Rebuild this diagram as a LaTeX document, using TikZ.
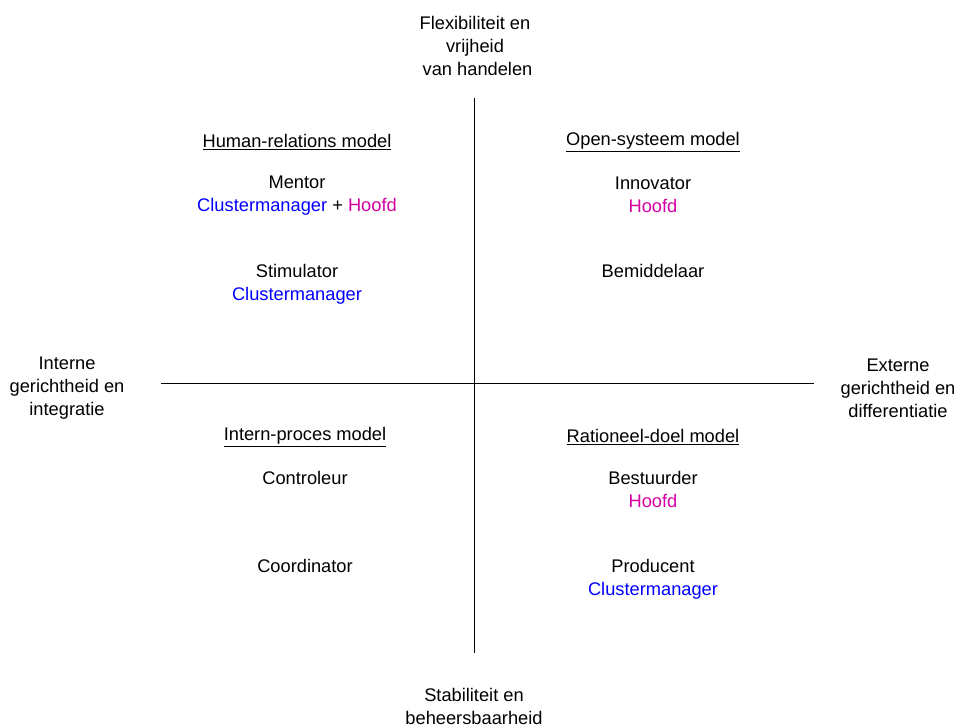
\documentclass[tikz,border=0pt]{standalone}
\usepackage{fontspec}
\setmainfont{Liberation Sans}
\definecolor{cmblue}{RGB}{0,0,255}
\definecolor{hoofdpink}{RGB}{214,0,160}
\begin{document}
\begin{tikzpicture}[x=0.75pt,y=-0.75pt,
  lbl/.style={inner sep=0pt,align=center,font=\fontsize{13.7}{17.25}\selectfont},
  axis/.style={line width=0.75pt,black}]
\useasboundingbox (0,0) rectangle (959,725);
% axes
\coordinate (vtop) at (474,98);
\coordinate (vbot) at (474,653);
\coordinate (hleft) at (161,383);
\coordinate (hright) at (814,383);
\draw[axis] (vtop) -- (vbot);
\draw[axis] (hleft) -- (hright);
% axis labels
\node[lbl] (flex) at (475,46) {Flexibiliteit en\\vrijheid\\~van handelen};
\node[lbl] (stab) at (474,706) {Stabiliteit en\\beheersbaarheid};
\node[lbl] (intern) at (67,388) {Interne\\gerichtheid en\\integratie};
\node[lbl] (extern) at (898,388) {Externe\\gerichtheid en\\differentiatie};
% quadrant headings
\node[lbl] (hr) at (297,142) {\underline{Human-relations model}};
\node[lbl] (os) at (653,142) {\underline{Open-systeem model}};
\node[lbl] (ip) at (305,437) {\underline{Intern-proces model}};
\node[lbl] (rd) at (653,437) {\underline{Rationeel-doel model}};
% roles
\node[lbl] (mentor) at (297,196) {Mentor\\\textcolor{cmblue}{Clustermanager} + \textcolor{hoofdpink}{Hoofd}};
\node[lbl] (stim) at (297,284) {Stimulator\\\textcolor{cmblue}{Clustermanager}};
\node[lbl] (innov) at (653,195) {Innovator\\\textcolor{hoofdpink}{Hoofd}};
\node[lbl] (bemid) at (653,271) {Bemiddelaar};
\node[lbl] (contr) at (305,478) {Controleur};
\node[lbl] (coord) at (305,566) {Coordinator};
\node[lbl] (best) at (653,489) {Bestuurder\\\textcolor{hoofdpink}{Hoofd}};
\node[lbl] (prod) at (653,579) {Producent\\\textcolor{cmblue}{Clustermanager}};
\end{tikzpicture}
\end{document}
